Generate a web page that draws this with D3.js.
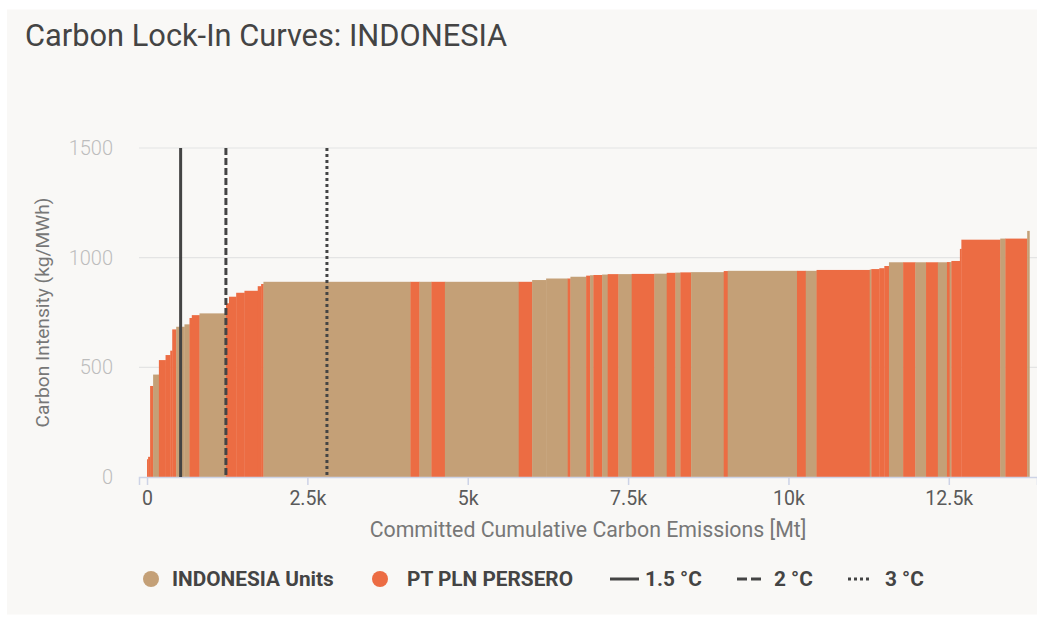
<!DOCTYPE html>
<html>
<head>
<meta charset="utf-8">
<script src="https://cdn.jsdelivr.net/npm/d3@7"></script>
<style>
  html, body { margin: 0; padding: 0; background: #ffffff; }
  svg { display: block; font-family: Roboto, "Noto Sans", sans-serif; }
</style>
</head>
<body>
<svg id="chart" width="1037" height="620"></svg>
<script>
// ---------------- data ----------------
const title = "Carbon Lock-In Curves: INDONESIA";
const ownerNames = ["INDONESIA Units", "PT PLN PERSERO"];
const ownerColors = ["#c4a077", "#ec6c43"];
// per unit (sorted by intensity): committed emissions [Mt], intensity [kg/MWh], owner index
const unitEmissions = [17,31,47,90,104,73,31,62,129,78,36,120,413,47,112,129,207,53,36,2292,
  140,187,210,1151,209,218,337,42,245,62,51,136,87,167,207,354,192,136,78,167,
  508,62,1080,137,168,829,25,125,78,72,221,190,167,184,142,42,27,133,23,606,80,340,34];
const unitIntensity = [81,92,415,467,533,556,576,673,685,696,725,738,746,792,822,840,849,870,880,890,
  890,890,890,890,890,898,905,905,913,918,920,921,923,925,925,926,927,931,932,933,
  934,939,940,940,940,944,946,948,952,962,979,979,979,979,979,980,980,985,1040,1082,1087,1087,1122];
const unitOwner = [1,1,1,0,1,1,1,1,0,0,1,1,0,1,1,1,1,1,1,0,
  1,0,1,0,1,0,0,1,0,1,0,1,0,1,0,1,0,1,0,1,
  0,1,0,1,0,1,0,1,1,1,0,1,0,1,0,1,0,1,1,1,0,1,0];
const budgetLabels = ["1.5 °C", "2 °C", "3 °C"];
const budgetValues = [524, 1230, 2805];
const budgetDash = ["none", "7,3", "3,3"];
const legendDash = ["none", "10,4", "3,3"];
const xTicks = [0, 2500, 5000, 7500, 10000, 12500];
const yTicks = [0, 500, 1000, 1500];
const xTitle = "Committed Cumulative Carbon Emissions [Mt]";
const yTitle = "Carbon Intensity (kg/MWh)";

// ---------------- layout ----------------
const svg = d3.select("#chart");
const W = 1037, H = 620;
const plot = { left: 139, right: 1037, top: 148, bottom: 477 };

svg.append("rect").attr("x", 7).attr("y", 9.5).attr("width", W - 7).attr("height", 605)
  .attr("fill", "#f9f8f6");

svg.append("text").attr("x", 25).attr("y", 46)
  .attr("font-size", 30.8).attr("fill", "#444").text(title);

const x = d3.scaleLinear().domain([-125, 13875]).range([plot.left, plot.right]);
const y = d3.scaleLinear().domain([0, 1500]).range([plot.bottom, plot.top]);

// grid
svg.append("g").selectAll("line").data(yTicks.filter(d => d > 0)).join("line")
  .attr("x1", plot.left).attr("x2", plot.right)
  .attr("y1", d => y(d)).attr("y2", d => y(d))
  .attr("stroke", "#e4e4e4").attr("stroke-width", 1.2);

// y tick labels
svg.append("g").selectAll("text").data(yTicks).join("text")
  .attr("x", 113).attr("y", d => y(d)).attr("dy", "0.35em")
  .attr("text-anchor", "end").attr("font-size", 20).attr("font-weight", 300)
  .attr("fill", "#bdbdbd").text(d => d);

// bars
const ends = Array.from(d3.cumsum(unitEmissions));
const units = unitEmissions.map((w, i) => ({
  x0: ends[i] - w, x1: ends[i], v: unitIntensity[i], o: unitOwner[i]
}));
svg.append("g").selectAll("rect").data(units).join("rect")
  .attr("x", d => x(d.x0))
  .attr("width", d => Math.max(0.5, x(d.x1) - x(d.x0) + 0.35))
  .attr("y", d => y(d.v))
  .attr("height", d => y(0) - y(d.v))
  .attr("fill", d => ownerColors[d.o]);

// x axis
const xAxis = d3.axisBottom(x).tickValues(xTicks).tickSize(8).tickPadding(6)
  .tickFormat(d => d === 0 ? "0" : d3.format("~")(d / 1000) + "k");
const gx = svg.append("g").attr("transform", `translate(0,${plot.bottom})`).call(xAxis);
gx.select(".domain").attr("stroke", "#cdd3e6").attr("stroke-width", 1.5);
gx.selectAll(".tick line").attr("stroke", "#cdd3e6").attr("stroke-width", 1.5);
gx.selectAll(".tick text").attr("font-size", 19.5).attr("fill", "#5a5a5a")
  .attr("font-family", "Roboto, sans-serif");

// axis titles
svg.append("text").attr("x", (plot.left + plot.right) / 2).attr("y", 537)
  .attr("text-anchor", "middle").attr("font-size", 21.3).attr("fill", "#777").text(xTitle);
svg.append("text")
  .attr("transform", `translate(49,${(plot.top + plot.bottom) / 2}) rotate(-90)`)
  .attr("text-anchor", "middle").attr("font-size", 19.2).attr("fill", "#777").text(yTitle);

// budget lines
svg.append("g").selectAll("line").data(budgetValues).join("line")
  .attr("x1", d => x(d)).attr("x2", d => x(d))
  .attr("y1", plot.top).attr("y2", plot.bottom)
  .attr("stroke", "#444").attr("stroke-width", 3)
  .attr("stroke-dasharray", (d, i) => budgetDash[i]);

// legend
const lg = svg.append("g").attr("transform", "translate(0,579)");
const ownerLegendX = [151, 380];
const ownerTextX = [172, 407];
ownerNames.forEach((n, i) => {
  lg.append("circle").attr("cx", ownerLegendX[i]).attr("cy", 0).attr("r", 8)
    .attr("fill", ownerColors[i]);
  lg.append("text").attr("x", ownerTextX[i]).attr("y", 0).attr("dy", "0.35em")
    .attr("font-size", 20.8).attr("font-weight", 700).attr("fill", "#444").text(n);
});
const lineLegendX = [610, 737, 848];
const lineLegendLen = [29, 24, 24];
const lineLegendText = [645, 774, 885];
budgetLabels.forEach((n, i) => {
  lg.append("line").attr("x1", lineLegendX[i]).attr("x2", lineLegendX[i] + lineLegendLen[i])
    .attr("y1", 0).attr("y2", 0).attr("stroke", "#444").attr("stroke-width", 3)
    .attr("stroke-dasharray", legendDash[i]);
  lg.append("text").attr("x", lineLegendText[i]).attr("y", 0).attr("dy", "0.35em")
    .attr("font-size", 20.8).attr("font-weight", 700).attr("fill", "#444").text(n);
});
</script>
</body>
</html>
